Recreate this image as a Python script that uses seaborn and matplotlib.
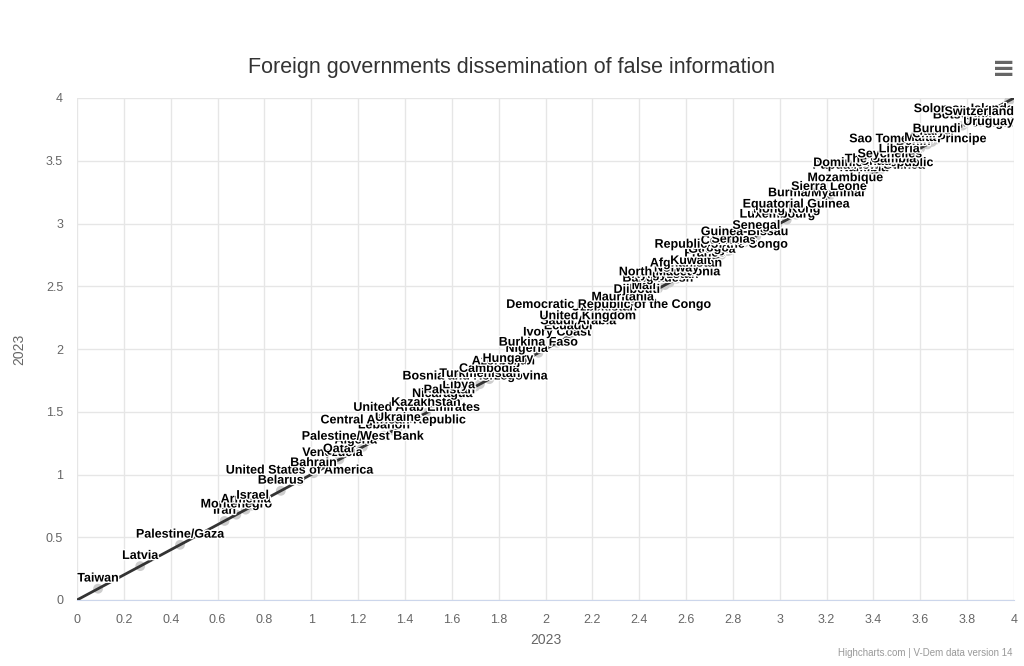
import matplotlib
matplotlib.use("Agg")
import matplotlib.pyplot as plt
import matplotlib.patheffects as pe
import seaborn as sns
import numpy as np
import pandas as pd

# ---- data (x = y = 2023 value) ----
countries = [
    "Taiwan", "Latvia", "Palestine/Gaza", "Iran", "Montenegro", "Armenia", "Israel",
    "Belarus", "United States of America", "Bahrain", "Venezuela", "Qatar", "Algeria",
    "Palestine/West Bank", "Lebanon", "Central African Republic", "Ukraine",
    "United Arab Emirates", "Kazakhstan", "Nicaragua", "Pakistan", "Libya",
    "Bosnia and Herzegovina", "Turkmenistan", "Cambodia", "Azerbaijan", "Hungary",
    "Nigeria", "Burkina Faso", "Ivory Coast", "Ecuador", "Saudi Arabia",
    "United Kingdom", "Uzbekistan", "Democratic Republic of the Congo", "Mauritania",
    "Djibouti", "Mali", "Bangladesh", "Kyrgyzstan", "North Macedonia", "Norway",
    "Afghanistan", "Kuwait", "France", "Georgia", "Togo", "Republic of the Congo",
    "Comoros", "Serbia", "Guinea-Bissau", "Senegal", "Luxembourg", "Hong Kong",
    "Equatorial Guinea", "Burma/Myanmar", "Sierra Leone", "Mozambique", "Namibia",
    "Papua New Guinea", "Dominican Republic", "Chad", "The Gambia", "Seychelles",
    "Liberia", "Benin", "Sao Tome and Principe", "Malta", "Chile", "Italy", "Burundi",
    "Botswana", "Solomon Islands", "Portugal", "Uruguay", "Switzerland",
]
values_2023 = [
    0.09, 0.27, 0.44, 0.63, 0.68, 0.72, 0.75,
    0.87, 0.95, 1.01, 1.09, 1.12, 1.19,
    1.22, 1.31, 1.35, 1.37,
    1.45, 1.49, 1.56, 1.59, 1.63,
    1.70, 1.72, 1.76, 1.82, 1.84,
    1.92, 1.97, 2.05, 2.10, 2.14,
    2.18, 2.25, 2.27, 2.33,
    2.39, 2.42, 2.48, 2.51, 2.53, 2.56,
    2.60, 2.62, 2.68, 2.71, 2.72, 2.75,
    2.78, 2.79, 2.85, 2.90, 2.99, 3.03,
    3.07, 3.16, 3.21, 3.28, 3.36,
    3.38, 3.40, 3.41, 3.43, 3.47,
    3.51, 3.57, 3.59, 3.60, 3.63, 3.65, 3.67,
    3.78, 3.83, 3.89, 3.90, 3.98,
]
x_ticks = [0, 0.2, 0.4, 0.6, 0.8, 1, 1.2, 1.4, 1.6, 1.8, 2, 2.2, 2.4, 2.6, 2.8, 3, 3.2, 3.4, 3.6, 3.8, 4]
y_ticks = [0, 0.5, 1, 1.5, 2, 2.5, 3, 3.5, 4]
title = "Foreign governments dissemination of false information"
x_label = "2023"
y_label = "2023"
credits = "Highcharts.com | V-Dem data version 14"

df = pd.DataFrame({"country": countries, "x": values_2023, "y": values_2023})

# ---- style ----
sns.set_style("white")
plt.rcParams["font.family"] = ["Liberation Sans", "DejaVu Sans"]

fig = plt.figure(figsize=(10.24, 6.66), dpi=100)
ax = fig.add_axes([77 / 1024, 66 / 666, 937 / 1024, 502 / 666])
ax.set_xlim(0, 4)
ax.set_ylim(0, 4)

sns.scatterplot(data=df, x="x", y="y", ax=ax, s=50, color="#c8c8c8",
                edgecolor="none", alpha=0.9, zorder=2, legend=False)
sns.regplot(data=df, x="x", y="y", ax=ax, scatter=False, ci=None, truncate=False,
            line_kws=dict(color="#333333", lw=2, zorder=3))
ax.set_xlim(0, 4)
ax.set_ylim(0, 4)

anns = []
for c, xv, yv in zip(df["country"], df["x"], df["y"]):
    a = ax.annotate(c, (xv, yv), xytext=(0, 3), textcoords="offset points",
                    ha="center", va="bottom", fontsize=9, fontweight="bold",
                    color="#000000", zorder=5, annotation_clip=False,
                    path_effects=[pe.withStroke(linewidth=2, foreground="white")])
    anns.append(a)

# grid & axes
ax.set_xticks(x_ticks)
ax.set_yticks(y_ticks)
ax.set_xticklabels([f"{t:g}" for t in x_ticks])
ax.set_yticklabels([f"{t:g}" for t in y_ticks])
ax.grid(True, color="#e6e6e6", lw=1)
ax.set_axisbelow(True)
for s in ["top", "right", "left"]:
    ax.spines[s].set_visible(False)
ax.spines["bottom"].set_color("#ccd6eb")
ax.tick_params(axis="x", colors="#666666", labelsize=9, length=8, width=1,
               color="#ccd6eb", pad=2)
ax.tick_params(axis="y", colors="#666666", labelsize=9, length=0, pad=10)
ax.set_xlabel(x_label, fontsize=10, color="#666666", labelpad=5)
ax.set_ylabel(y_label, fontsize=10, color="#666666", labelpad=14)

fig.text(0.5, 1 - 67 / 666, title, ha="center", va="center", fontsize=15.5, color="#333333")
fig.text(1013 / 1024, 1 - 653 / 666, credits, ha="right", va="center", fontsize=7, color="#999999")
fig.text(1004 / 1024, 1 - 69 / 666, "\u2261", ha="center", va="center", fontsize=20,
         color="#666666", fontweight="bold", family="DejaVu Sans")

# justify labels inside plot area (like Highcharts)
fig.canvas.draw()
r = fig.canvas.get_renderer()
axbb = ax.get_window_extent(r)
k = 72 / fig.dpi
for a in anns:
    bb = a.get_window_extent(r)
    dx, dy = 0, a.xyann[1]
    if bb.x1 > axbb.x1:
        dx = -(bb.x1 - axbb.x1) * k
    if bb.y1 > axbb.y1:
        a.set_va("top")
        dy = -4
    a.xyann = (dx, dy)

fig.savefig("out.png", dpi=100)
